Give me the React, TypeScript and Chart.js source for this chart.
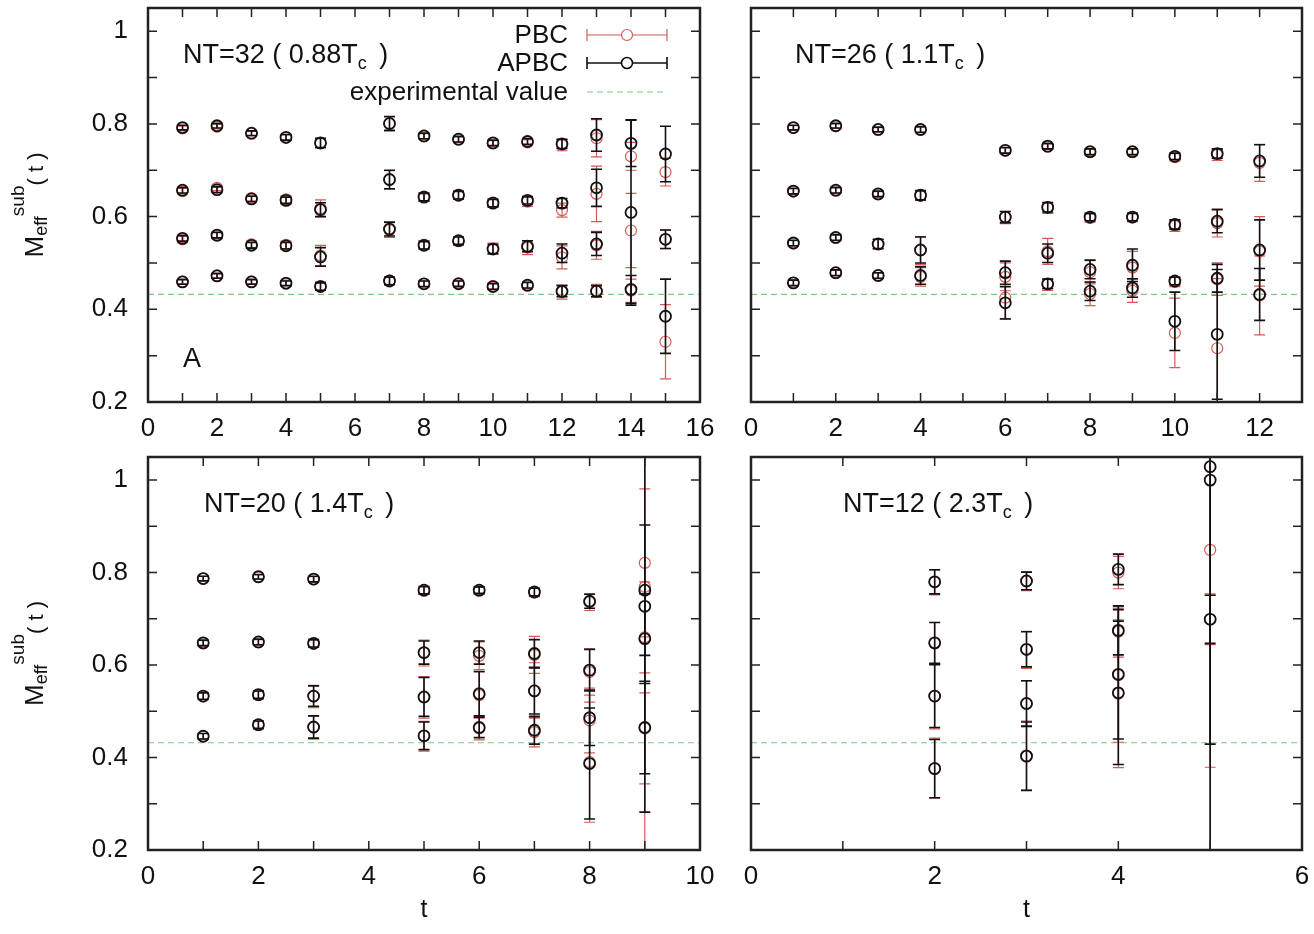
import React, { useEffect, useRef } from 'react';
import { Chart, registerables } from 'chart.js';
Chart.register(...registerables);

// ---------------- DATA ----------------
const EXP_VALUE = 0.432;
const yTickValues = [0.2, 0.3, 0.4, 0.5, 0.6, 0.7, 0.8, 0.9, 1.0];
const yTickLabels = ['0.2', '', '0.4', '', '0.6', '', '0.8', '', '1'];

// NT=32 (0.88 Tc)
const tlT = [1, 2, 3, 4, 5, 7, 8, 9, 10, 11, 12, 13, 14, 15];
const tlApbc = [
  [0.792, 0.796, 0.780, 0.771, 0.759, 0.801, 0.774, 0.767, 0.759, 0.762, 0.757, 0.776, 0.758, 0.735],
  [0.657, 0.658, 0.638, 0.635, 0.615, 0.680, 0.642, 0.646, 0.629, 0.635, 0.629, 0.662, 0.609, null],
  [0.553, 0.560, 0.538, 0.537, 0.513, 0.573, 0.538, 0.548, 0.530, 0.536, 0.521, 0.541, null, 0.551],
  [0.459, 0.472, 0.459, 0.456, 0.449, 0.461, 0.455, 0.455, 0.449, 0.452, 0.439, 0.439, 0.443, 0.385],
];
const tlApbcErr = [
  [0.005, 0.005, 0.005, 0.006, 0.010, 0.015, 0.006, 0.006, 0.006, 0.006, 0.010, 0.035, 0.050, 0.060],
  [0.006, 0.006, 0.006, 0.007, 0.015, 0.020, 0.008, 0.008, 0.008, 0.008, 0.010, 0.040, 0.200, null],
  [0.006, 0.006, 0.006, 0.007, 0.020, 0.015, 0.008, 0.008, 0.010, 0.012, 0.020, 0.025, null, 0.020],
  [0.005, 0.005, 0.005, 0.005, 0.008, 0.008, 0.006, 0.006, 0.006, 0.006, 0.012, 0.012, 0.030, 0.080],
];
const tlPbc = [
  [0.790, 0.794, 0.779, 0.770, 0.758, 0.800, 0.773, 0.766, 0.758, 0.760, 0.754, 0.769, 0.730, 0.696],
  [0.655, 0.662, 0.640, 0.637, 0.618, 0.679, 0.643, 0.647, 0.630, 0.632, 0.614, 0.649, 0.570, null],
  [0.551, 0.559, 0.540, 0.539, 0.516, 0.571, 0.539, 0.547, 0.531, 0.533, 0.512, 0.538, null, 0.551],
  [0.460, 0.473, 0.460, 0.457, 0.450, 0.462, 0.455, 0.456, 0.450, 0.451, 0.437, 0.440, 0.440, 0.330],
];
const tlPbcErr = [
  [0.005, 0.005, 0.005, 0.006, 0.010, 0.015, 0.006, 0.006, 0.006, 0.006, 0.012, 0.040, 0.030, 0.030],
  [0.006, 0.006, 0.006, 0.008, 0.018, 0.020, 0.009, 0.009, 0.009, 0.010, 0.015, 0.060, 0.080, null],
  [0.007, 0.007, 0.007, 0.008, 0.022, 0.016, 0.009, 0.009, 0.012, 0.015, 0.025, 0.030, null, 0.020],
  [0.005, 0.005, 0.005, 0.006, 0.009, 0.008, 0.006, 0.006, 0.007, 0.007, 0.015, 0.014, 0.025, 0.080],
];

// NT=26 (1.1 Tc)
const trT = [1, 2, 3, 4, 6, 7, 8, 9, 10, 11, 12];
const trApbc = [
  [0.792, 0.796, 0.788, 0.788, 0.743, 0.752, 0.740, 0.740, 0.730, 0.736, 0.720],
  [0.655, 0.657, 0.649, 0.646, 0.599, 0.620, 0.599, 0.599, 0.583, 0.590, null],
  [0.543, 0.555, 0.541, 0.528, 0.479, 0.521, 0.486, 0.495, 0.461, 0.467, 0.528],
  [0.457, 0.479, 0.473, 0.473, 0.414, 0.455, 0.439, 0.446, 0.374, 0.346, 0.432],
];
const trApbcErr = [
  [0.005, 0.005, 0.005, 0.006, 0.006, 0.006, 0.006, 0.006, 0.007, 0.010, 0.035],
  [0.006, 0.006, 0.006, 0.010, 0.012, 0.010, 0.008, 0.008, 0.010, 0.025, null],
  [0.006, 0.006, 0.010, 0.028, 0.025, 0.020, 0.020, 0.035, 0.008, 0.030, 0.065],
  [0.006, 0.006, 0.006, 0.019, 0.035, 0.010, 0.020, 0.020, 0.063, 0.140, 0.056],
];
const trPbc = [
  [0.791, 0.795, 0.787, 0.787, 0.742, 0.751, 0.739, 0.739, 0.728, 0.733, 0.716],
  [0.654, 0.656, 0.648, 0.645, 0.598, 0.619, 0.597, 0.598, 0.580, 0.586, null],
  [0.542, 0.554, 0.540, 0.527, 0.470, 0.525, 0.480, 0.490, 0.459, 0.465, 0.525],
  [0.457, 0.478, 0.472, 0.470, 0.425, 0.453, 0.433, 0.440, 0.349, 0.316, 0.430],
];
const trPbcErr = [
  [0.005, 0.005, 0.005, 0.006, 0.006, 0.006, 0.007, 0.007, 0.008, 0.012, 0.040],
  [0.006, 0.006, 0.006, 0.010, 0.013, 0.012, 0.009, 0.009, 0.012, 0.030, null],
  [0.006, 0.006, 0.010, 0.030, 0.030, 0.028, 0.025, 0.035, 0.010, 0.035, 0.075],
  [0.006, 0.006, 0.006, 0.020, 0.045, 0.012, 0.025, 0.025, 0.075, 0.150, 0.085],
];

// NT=20 (1.4 Tc)
const blT = [1, 2, 3, 5, 6, 7, 8, 9];
const blApbc = [
  [0.787, 0.791, 0.786, 0.762, 0.762, 0.758, 0.738, 0.762],
  [0.648, 0.650, 0.647, 0.627, 0.627, 0.625, 0.589, 0.727],
  [0.533, 0.536, 0.533, 0.531, 0.538, 0.544, 0.486, 0.657],
  [0.446, 0.471, 0.466, 0.447, 0.465, 0.459, 0.387, 0.465],
];
const blApbcErr = [
  [0.005, 0.005, 0.006, 0.008, 0.007, 0.008, 0.015, 0.141],
  [0.006, 0.006, 0.008, 0.025, 0.025, 0.030, 0.045, 0.445],
  [0.007, 0.008, 0.022, 0.042, 0.048, 0.050, 0.060, 0.097],
  [0.006, 0.008, 0.024, 0.030, 0.022, 0.030, 0.120, 0.100],
];
const blPbc = [
  [0.787, 0.790, 0.785, 0.761, 0.761, 0.757, 0.736, 0.821],
  [0.647, 0.649, 0.646, 0.626, 0.620, 0.622, 0.585, 0.769],
  [0.532, 0.535, 0.532, 0.530, 0.535, 0.545, 0.480, 0.660],
  [0.446, 0.470, 0.465, 0.446, 0.463, 0.455, 0.390, 0.463],
];
const blPbcErr = [
  [0.005, 0.005, 0.006, 0.008, 0.008, 0.009, 0.018, 0.160],
  [0.006, 0.006, 0.008, 0.028, 0.030, 0.040, 0.050, 0.600],
  [0.007, 0.008, 0.024, 0.045, 0.050, 0.060, 0.070, 0.120],
  [0.006, 0.008, 0.025, 0.032, 0.025, 0.032, 0.130, 0.120],
];

// NT=12 (2.3 Tc)
const brT = [2, 3, 4, 5];
const brApbc = [
  [0.780, 0.782, 0.807, 1.029],
  [0.648, 0.634, 0.675, 1.000],
  [0.533, 0.517, 0.580, 0.699],
  [0.376, 0.403, 0.540, null],
];
const brApbcErr = [
  [0.026, 0.019, 0.033, 0.600],
  [0.044, 0.038, 0.053, 0.800],
  [0.068, 0.049, 0.140, 0.052],
  [0.063, 0.074, 0.155, null],
];
const brPbc = [
  [0.779, 0.781, 0.800, 1.029],
  [0.647, 0.633, 0.672, 0.849],
  [0.532, 0.516, 0.578, 0.699],
  [0.377, 0.404, 0.538, null],
];
const brPbcErr = [
  [0.027, 0.020, 0.035, 0.650],
  [0.045, 0.040, 0.055, 0.700],
  [0.070, 0.050, 0.145, 0.055],
  [0.065, 0.075, 0.160, null],
];

// ---------------- STYLE / LAYOUT ----------------
const FONT = '"Liberation Sans", Arial, Helvetica, sans-serif';
const RED = '#d65a55';
const BLACK = '#111111';
const GREEN = '#7ccc7c';
const AXIS = '#222222';
const CAP = 5.5;
const TICK = 9;
const W = 1314;
const H = 934;

type Rich = { t: string; s: number; dy: number; dx?: number };

const panels = [
  {
    key: 'tl', t: tlT, apbc: tlApbc, apbcErr: tlApbcErr, pbc: tlPbc, pbcErr: tlPbcErr, xMax: 16,
    pad: { left: 0, right: 614, top: 8, bottom: 472 }, yw: 148, xh: 60, titleDx: 35,
    yLabels: true, xTitle: false, legend: true, mark: 'A',
    title: [{ t: 'NT=32 ( 0.88T', s: 27, dy: 0 }, { t: 'c', s: 18, dy: 6 }, { t: ' )', s: 27, dy: 0, dx: 5 }],
  },
  {
    key: 'tr', t: trT, apbc: trApbc, apbcErr: trApbcErr, pbc: trPbc, pbcErr: trPbcErr, xMax: 13,
    pad: { left: 731, right: 12, top: 8, bottom: 472 }, yw: 20, xh: 60, titleDx: 44,
    yLabels: false, xTitle: false, legend: false, mark: '',
    title: [{ t: 'NT=26 ( 1.1T', s: 27, dy: 0 }, { t: 'c', s: 18, dy: 6 }, { t: ' )', s: 27, dy: 0, dx: 5 }],
  },
  {
    key: 'bl', t: blT, apbc: blApbc, apbcErr: blApbcErr, pbc: blPbc, pbcErr: blPbcErr, xMax: 10,
    pad: { left: 0, right: 614, top: 457, bottom: 0 }, yw: 148, xh: 84, titleDx: 56,
    yLabels: true, xTitle: true, legend: false, mark: '',
    title: [{ t: 'NT=20 ( 1.4T', s: 27, dy: 0 }, { t: 'c', s: 18, dy: 6 }, { t: ' )', s: 27, dy: 0, dx: 5 }],
  },
  {
    key: 'br', t: brT, apbc: brApbc, apbcErr: brApbcErr, pbc: brPbc, pbcErr: brPbcErr, xMax: 6,
    pad: { left: 731, right: 12, top: 457, bottom: 0 }, yw: 20, xh: 84, titleDx: 92,
    yLabels: false, xTitle: true, legend: false, mark: '',
    title: [{ t: 'NT=12 ( 2.3T', s: 27, dy: 0 }, { t: 'c', s: 18, dy: 6 }, { t: ' )', s: 27, dy: 0, dx: 5 }],
  },
];

function buildPoints(ts: number[], vals: (number | null)[][], errs: (number | null)[][]) {
  const pts: { x: number; y: number; e: number }[] = [];
  vals.forEach((row, li) =>
    row.forEach((v, i) => {
      if (v !== null && v !== undefined) pts.push({ x: ts[i], y: v, e: (errs[li][i] as number) || 0 });
    })
  );
  return pts;
}

function drawRich(ctx: CanvasRenderingContext2D, x: number, y: number, parts: Rich[], align: 'left' | 'center' = 'left') {
  ctx.textAlign = 'left';
  ctx.textBaseline = 'alphabetic';
  let total = 0;
  parts.forEach((p) => {
    ctx.font = `${p.s}px ${FONT}`;
    total += ctx.measureText(p.t).width + (p.dx || 0);
  });
  let cx = align === 'center' ? x - total / 2 : x;
  parts.forEach((p) => {
    ctx.font = `${p.s}px ${FONT}`;
    cx += p.dx || 0;
    ctx.fillText(p.t, cx, y + p.dy);
    cx += ctx.measureText(p.t).width;
  });
}

function legendSample(ctx: CanvasRenderingContext2D, y: number, color: string, lw: number) {
  const x1 = 587, x2 = 667, xc = 627;
  ctx.strokeStyle = color;
  ctx.lineWidth = lw;
  ctx.beginPath();
  ctx.moveTo(x1, y); ctx.lineTo(x2, y);
  ctx.moveTo(x1, y - 6); ctx.lineTo(x1, y + 6);
  ctx.moveTo(x2, y - 6); ctx.lineTo(x2, y + 6);
  ctx.stroke();
  ctx.fillStyle = '#fff';
  ctx.beginPath();
  ctx.arc(xc, y, 5.5, 0, Math.PI * 2);
  ctx.fill();
  ctx.stroke();
}

function makeDecor(cfg: any) {
  return {
    id: 'decor_' + cfg.key,
    beforeDatasetDraw(chart: any, args: any) {
      const ds = chart.data.datasets[args.index];
      if (!ds.errWidth) return;
      const { ctx, chartArea: a } = chart;
      const xs = chart.scales.x, ys = chart.scales.y;
      ctx.save();
      ctx.beginPath();
      ctx.rect(a.left, a.top, a.right - a.left, a.bottom - a.top);
      ctx.clip();
      ctx.strokeStyle = ds.borderColor;
      ctx.lineWidth = ds.errWidth;
      ds.data.forEach((p: any) => {
        const px = xs.getPixelForValue(p.x);
        const y1 = ys.getPixelForValue(p.y + p.e);
        const y2 = ys.getPixelForValue(p.y - p.e);
        ctx.beginPath();
        ctx.moveTo(px, y1); ctx.lineTo(px, y2);
        ctx.moveTo(px - CAP, y1); ctx.lineTo(px + CAP, y1);
        ctx.moveTo(px - CAP, y2); ctx.lineTo(px + CAP, y2);
        ctx.stroke();
      });
      ctx.restore();
    },
    afterDraw(chart: any) {
      const { ctx, chartArea: a } = chart;
      const xs = chart.scales.x, ys = chart.scales.y;
      ctx.save();
      // inward ticks
      ctx.strokeStyle = AXIS;
      ctx.lineWidth = 1.5;
      ctx.beginPath();
      xs.ticks.forEach((tk: any) => {
        if (Math.abs(tk.value - Math.round(tk.value)) > 1e-6) return;
        const px = xs.getPixelForValue(tk.value);
        ctx.moveTo(px, a.bottom); ctx.lineTo(px, a.bottom - TICK);
        ctx.moveTo(px, a.top); ctx.lineTo(px, a.top + TICK);
      });
      ys.ticks.forEach((tk: any) => {
        const py = ys.getPixelForValue(tk.value);
        ctx.moveTo(a.left, py); ctx.lineTo(a.left + TICK, py);
        ctx.moveTo(a.right, py); ctx.lineTo(a.right - TICK, py);
      });
      ctx.stroke();
      // frame
      ctx.lineWidth = 2.5;
      ctx.strokeRect(a.left, a.top, a.right - a.left, a.bottom - a.top);

      // panel title
      ctx.fillStyle = BLACK;
      drawRich(ctx, a.left + cfg.titleDx, a.top + 54.5, cfg.title);

      if (cfg.mark) {
        ctx.font = `27px ${FONT}`;
        ctx.textAlign = 'left';
        ctx.textBaseline = 'alphabetic';
        ctx.fillText(cfg.mark, a.left + 35, 367);
      }

      if (cfg.legend) {
        ctx.font = `26px ${FONT}`;
        ctx.textAlign = 'right';
        ctx.textBaseline = 'middle';
        ctx.fillStyle = BLACK;
        ctx.fillText('PBC', 568, 36);
        ctx.fillText('APBC', 568, 64);
        ctx.fillText('experimental value', 568, 93);
        legendSample(ctx, 35, RED, 1.2);
        legendSample(ctx, 63, BLACK, 1.6);
        ctx.strokeStyle = GREEN;
        ctx.lineWidth = 1.2;
        ctx.setLineDash([6, 4]);
        ctx.beginPath();
        ctx.moveTo(587, 92); ctx.lineTo(667, 92);
        ctx.stroke();
        ctx.setLineDash([]);
      }

      if (cfg.yLabels) {
        const cy = (a.top + a.bottom) / 2;
        ctx.translate(43, cy);
        ctx.rotate(-Math.PI / 2);
        ctx.fillStyle = BLACK;
        drawRich(ctx, 0, 0, [
          { t: 'M', s: 26, dy: 0 },
          { t: 'eff', s: 18, dy: 4 },
          { t: 'sub', s: 19, dy: -19 },
          { t: '( t )', s: 22, dy: 0 },
        ], 'center');
      }
      ctx.restore();
    },
  };
}

function Panel({ cfg }: { cfg: any }) {
  const ref = useRef<HTMLCanvasElement | null>(null);
  useEffect(() => {
    if (!ref.current) return;
    const chart = new Chart(ref.current, {
      type: 'scatter',
      data: {
        datasets: [
          {
            label: 'APBC',
            data: buildPoints(cfg.t, cfg.apbc, cfg.apbcErr),
            borderColor: BLACK,
            backgroundColor: 'rgba(0,0,0,0)',
            pointRadius: 5.5,
            pointBorderWidth: 1.8,
            borderWidth: 1.8,
            errWidth: 1.6,
          } as any,
          {
            label: 'PBC',
            data: buildPoints(cfg.t, cfg.pbc, cfg.pbcErr),
            borderColor: RED,
            backgroundColor: 'rgba(0,0,0,0)',
            pointRadius: 5.5,
            pointBorderWidth: 1.2,
            borderWidth: 1.2,
            errWidth: 1.2,
          } as any,
          {
            label: 'experimental value',
            type: 'line',
            data: [{ x: 0, y: EXP_VALUE }, { x: cfg.xMax, y: EXP_VALUE }],
            borderColor: GREEN,
            borderDash: [6, 4],
            borderWidth: 1.2,
            pointRadius: 0,
            showLine: true,
          } as any,
        ],
      },
      options: {
        responsive: false,
        maintainAspectRatio: false,
        animation: false,
        events: [],
        layout: { padding: cfg.pad },
        plugins: { legend: { display: false }, tooltip: { enabled: false } },
        scales: {
          x: {
            type: 'linear',
            position: 'bottom',
            min: 0,
            max: cfg.xMax,
            afterFit: (s: any) => { s.height = cfg.xh; s.paddingLeft = 0; s.paddingRight = 0; },
            grid: { display: false, drawTicks: false },
            border: { display: false },
            ticks: {
              stepSize: 1,
              autoSkip: false,
              maxRotation: 0,
              padding: 11,
              color: BLACK,
              font: { family: FONT, size: 26 },
              callback: (v: any) => (Math.abs(v - Math.round(v)) < 1e-6 && Math.round(v) % 2 === 0 ? String(Math.round(v)) : ''),
            },
            title: {
              display: cfg.xTitle,
              text: 't',
              color: BLACK,
              font: { family: FONT, size: 25 },
              padding: { top: 0, bottom: 9 },
            },
          },
          y: {
            type: 'linear',
            position: 'left',
            min: 0.2,
            max: 1.05,
            afterBuildTicks: (s: any) => { s.ticks = yTickValues.map((v) => ({ value: v })); },
            afterFit: (s: any) => { s.width = cfg.yw; s.paddingTop = 0; s.paddingBottom = 0; },
            grid: { display: false, drawTicks: false },
            border: { display: false },
            ticks: {
              display: cfg.yLabels,
              autoSkip: false,
              padding: 20,
              color: BLACK,
              font: { family: FONT, size: 26 },
              callback: (_v: any, i: number) => yTickLabels[i] ?? '',
            },
          },
        },
      } as any,
      plugins: [makeDecor(cfg)],
    });
    return () => chart.destroy();
  }, []);
  return (
    <canvas
      ref={ref}
      width={W}
      height={H}
      style={{ position: 'absolute', left: 0, top: 0, width: W, height: H }}
    />
  );
}

export default function App() {
  return (
    <div style={{ position: 'fixed', left: 0, top: 0, width: W, height: H, background: '#ffffff', overflow: 'hidden' }}>
      {panels.map((p) => (
        <Panel key={p.key} cfg={p} />
      ))}
    </div>
  );
}
